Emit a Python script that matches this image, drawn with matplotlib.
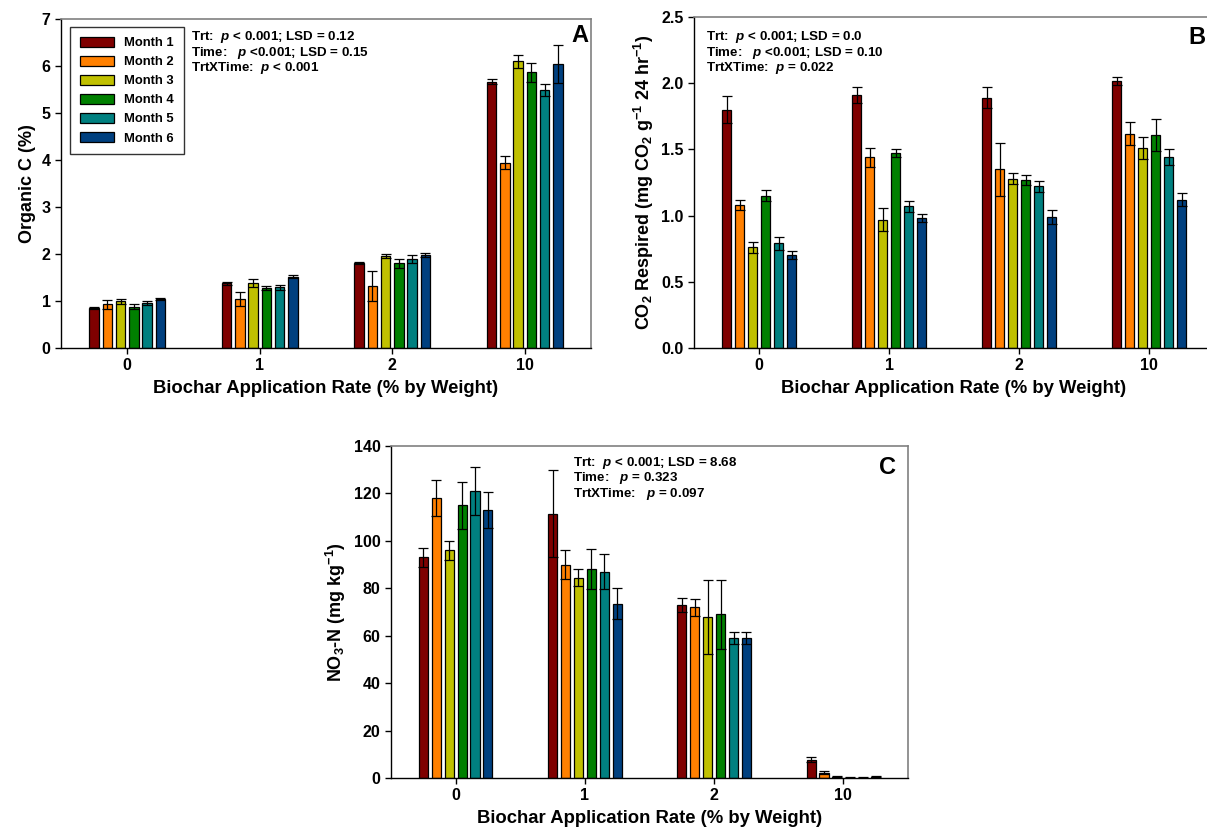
import numpy as np
import matplotlib
matplotlib.use("Agg")
import matplotlib.pyplot as plt

plt.rcParams['font.family'] = ['Liberation Sans', 'DejaVu Sans']
plt.rcParams['font.weight'] = 'bold'
plt.rcParams['axes.labelweight'] = 'bold'
plt.rcParams['mathtext.fontset'] = 'custom'
plt.rcParams['mathtext.rm'] = 'Liberation Sans:bold'
plt.rcParams['mathtext.it'] = 'Liberation Sans:italic:bold'
plt.rcParams['mathtext.bf'] = 'Liberation Sans:bold'

# data
rates = ["0", "1", "2", "10"]
months = ["Month 1", "Month 2", "Month 3", "Month 4", "Month 5", "Month 6"]
colors = ["#7f0000", "#ff8000", "#c0c000", "#008000", "#008080", "#00407f"]

# organic C (%), rows = months, cols = rates
orgc = [[0.85, 1.38, 1.80, 5.67],
        [0.93, 1.05, 1.31, 3.94],
        [0.99, 1.38, 1.95, 6.10],
        [0.88, 1.28, 1.80, 5.87],
        [0.95, 1.29, 1.89, 5.49],
        [1.05, 1.52, 1.98, 6.04]]
orgc_err = [[0.02, 0.03, 0.02, 0.06],
            [0.10, 0.15, 0.32, 0.14],
            [0.05, 0.08, 0.04, 0.14],
            [0.06, 0.04, 0.09, 0.20],
            [0.04, 0.05, 0.08, 0.13],
            [0.02, 0.04, 0.04, 0.40]]

# CO2 respired
co2 = [[1.80, 1.91, 1.89, 2.02],
       [1.08, 1.44, 1.35, 1.62],
       [0.76, 0.97, 1.28, 1.51],
       [1.15, 1.47, 1.27, 1.61],
       [0.79, 1.07, 1.22, 1.44],
       [0.70, 0.98, 0.99, 1.12]]
co2_err = [[0.10, 0.06, 0.08, 0.03],
           [0.04, 0.07, 0.20, 0.09],
           [0.04, 0.09, 0.04, 0.08],
           [0.04, 0.03, 0.04, 0.12],
           [0.05, 0.04, 0.04, 0.06],
           [0.03, 0.03, 0.05, 0.05]]

# NO3-N
no3 = [[93.0, 111.5, 73.0, 7.8],
       [118.0, 90.0, 72.0, 2.3],
       [96.0, 84.5, 68.0, 0.6],
       [115.0, 88.0, 69.0, 0.2],
       [121.0, 87.0, 59.0, 0.2],
       [113.0, 73.5, 59.0, 0.6]]
no3_err = [[4.0, 18.5, 3.0, 1.2],
           [7.5, 6.0, 3.5, 0.6],
           [4.0, 3.5, 15.5, 0.1],
           [10.0, 8.5, 14.5, 0.1],
           [10.0, 7.5, 2.5, 0.1],
           [7.5, 6.5, 2.5, 0.2]]

xlabel = "Biochar Application Rate (% by Weight)"


def panel(ax, vals, errs, ylim, yticks, ytl, ylabel, notes, note_x, note_y):
    x = np.arange(len(rates))
    for i in range(len(months)):
        pos = x + (i - 2.5) * 0.1
        ax.bar(pos, vals[i], width=0.07, color=colors[i], edgecolor='black',
               linewidth=0.9, label=months[i], zorder=2)
        ax.errorbar(pos, vals[i], yerr=errs[i], fmt='none', ecolor='black',
                    elinewidth=0.9, capsize=3.8, capthick=0.9, zorder=3)
    ax.set_xlim(-0.5, 3.5)
    ax.set_ylim(*ylim)
    ax.set_xticks(x)
    ax.set_xticklabels(rates)
    ax.set_yticks(yticks)
    ax.set_yticklabels(ytl)
    ax.tick_params(direction='out', length=4, width=1, labelsize=11.5, top=False, right=False)
    for s in ['left', 'bottom']:
        ax.spines[s].set_color('black')
        ax.spines[s].set_linewidth(1.0)
    for s in ['top', 'right']:
        ax.spines[s].set_color('#808080')
        ax.spines[s].set_linewidth(1.2)
    ax.set_xlabel(xlabel, fontsize=13.3, fontweight='bold', labelpad=5)
    ax.set_ylabel(ylabel, fontsize=13, fontweight='bold')
    # annotation lines at fixed pixel offsets from the top spine
    h = ax.get_position().height * 832.0
    for k, line in enumerate(notes):
        ax.text(note_x, 1 - (note_y + 15.5 * k) / h, line, transform=ax.transAxes,
                fontsize=9.6, fontweight='bold', va='center', ha='left')


fig = plt.figure(figsize=(12.07, 8.32), dpi=100)
W, H = 1207.0, 832.0

axA = fig.add_axes([61 / W, 1 - 348 / H, 530 / W, 329 / H])
axB = fig.add_axes([694 / W, 1 - 348 / H, 520 / W, 331 / H])
axC = fig.add_axes([391 / W, 1 - 778 / H, 517 / W, 332 / H])

panel(axA, orgc, orgc_err, (0, 7), range(0, 8), [str(v) for v in range(0, 8)],
      "Organic C (%)",
      ["Trt:  $p$ < 0.001; LSD = 0.12",
       "Time:   $p$ <0.001; LSD = 0.15",
       "TrtXTime:  $p$ < 0.001"], 130 / 530, 18)

panel(axB, co2, co2_err, (0, 2.5), np.arange(0, 2.51, 0.5),
      ["0.0", "0.5", "1.0", "1.5", "2.0", "2.5"],
      "CO$_2$ Respired (mg CO$_2$ g$^{-1}$ 24 hr$^{-1}$)",
      ["Trt:  $p$ < 0.001; LSD = 0.0",
       "Time:   $p$ <0.001; LSD = 0.10",
       "TrtXTime:  $p$ = 0.022"], 12 / 520, 20)

panel(axC, no3, no3_err, (0, 140), range(0, 141, 20), [str(v) for v in range(0, 141, 20)],
      "NO$_3$-N (mg kg$^{-1}$)",
      ["Trt:  $p$ < 0.001; LSD = 8.68",
       "Time:   $p$ = 0.323",
       "TrtXTime:   $p$ = 0.097"], 182 / 517, 17)

# panel letters
fig.text(588 / W, 1 - 35 / H, "A", fontsize=17, fontweight='bold', ha='right', va='center')
fig.text(1205 / W, 1 - 38 / H, "B", fontsize=17, fontweight='bold', ha='right', va='center')
fig.text(896 / W, 1 - 468 / H, "C", fontsize=17, fontweight='bold', ha='right', va='center')

leg = axA.legend(loc='upper left', bbox_to_anchor=(0.017, 0.976), fontsize=9.4,
                 frameon=True, fancybox=False, edgecolor='black', handlelength=2.6,
                 handleheight=0.8, borderpad=0.75, labelspacing=0.5, borderaxespad=0)
leg.get_frame().set_linewidth(1.0)

fig.savefig("out.png", dpi=100)
